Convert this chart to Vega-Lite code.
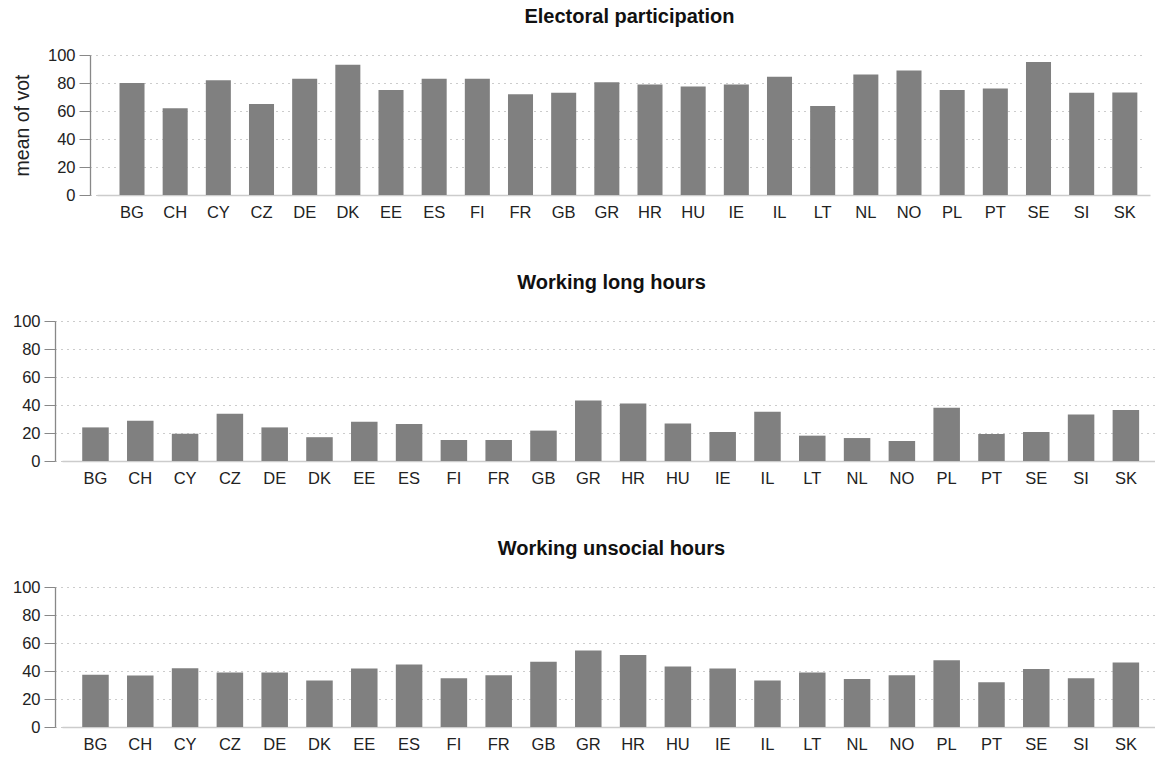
{
  "$schema": "https://vega.github.io/schema/vega-lite/v6.json",
  "background": "white",
  "padding": {"left": 12, "top": 7, "right": 0, "bottom": 0},
  "spacing": 52,
  "center": true,
  "config": {
    "font": "Liberation Sans",
    "view": {"stroke": null},
    "title": {"fontSize": 20, "fontWeight": "bold", "color": "#111111", "offset": 20, "anchor": "middle"},
    "axisX": {"title": null, "labelAngle": 0, "ticks": false, "domainColor": "#cccccc", "domainWidth": 1.5, "labelPadding": 9, "labelFontSize": 16.5, "labelColor": "#222222", "grid": false},
    "axisY": {"values": [0, 20, 40, 60, 80, 100], "offset": 7, "tickSize": 11, "tickColor": "#888888", "domainColor": "#888888", "domainWidth": 1.3, "labelPadding": 4, "labelFontSize": 16.5, "labelColor": "#222222", "gridColor": "#999999", "gridDash": [1, 5], "gridWidth": 1, "titleFontSize": 19.5, "titleFontWeight": "normal", "titleColor": "#222222", "titlePadding": 15}
  },
  "datasets": {
    "vot": [
      {"country": "BG", "value": 80}, {"country": "CH", "value": 62}, {"country": "CY", "value": 82}, {"country": "CZ", "value": 65},
      {"country": "DE", "value": 83}, {"country": "DK", "value": 93}, {"country": "EE", "value": 75}, {"country": "ES", "value": 83},
      {"country": "FI", "value": 83}, {"country": "FR", "value": 72}, {"country": "GB", "value": 73}, {"country": "GR", "value": 80.5},
      {"country": "HR", "value": 79}, {"country": "HU", "value": 77.5}, {"country": "IE", "value": 79}, {"country": "IL", "value": 84.5},
      {"country": "LT", "value": 63.5}, {"country": "NL", "value": 86}, {"country": "NO", "value": 89}, {"country": "PL", "value": 75},
      {"country": "PT", "value": 76}, {"country": "SE", "value": 95}, {"country": "SI", "value": 73}, {"country": "SK", "value": 73.3}
    ],
    "long": [
      {"country": "BG", "value": 24}, {"country": "CH", "value": 28.8}, {"country": "CY", "value": 19.5}, {"country": "CZ", "value": 33.8},
      {"country": "DE", "value": 24}, {"country": "DK", "value": 17}, {"country": "EE", "value": 28}, {"country": "ES", "value": 26.4},
      {"country": "FI", "value": 15}, {"country": "FR", "value": 15}, {"country": "GB", "value": 21.7}, {"country": "GR", "value": 43.3},
      {"country": "HR", "value": 41}, {"country": "HU", "value": 26.7}, {"country": "IE", "value": 20.7}, {"country": "IL", "value": 35.2},
      {"country": "LT", "value": 18.1}, {"country": "NL", "value": 16.4}, {"country": "NO", "value": 14.3}, {"country": "PL", "value": 38.1},
      {"country": "PT", "value": 19.3}, {"country": "SE", "value": 20.7}, {"country": "SI", "value": 33.3}, {"country": "SK", "value": 36.4}
    ],
    "unsoc": [
      {"country": "BG", "value": 37.4}, {"country": "CH", "value": 36.7}, {"country": "CY", "value": 42}, {"country": "CZ", "value": 38.9},
      {"country": "DE", "value": 38.9}, {"country": "DK", "value": 33.2}, {"country": "EE", "value": 41.7}, {"country": "ES", "value": 44.6},
      {"country": "FI", "value": 34.8}, {"country": "FR", "value": 37}, {"country": "GB", "value": 46.6}, {"country": "GR", "value": 54.7},
      {"country": "HR", "value": 51.4}, {"country": "HU", "value": 43.3}, {"country": "IE", "value": 41.7}, {"country": "IL", "value": 33.2},
      {"country": "LT", "value": 38.9}, {"country": "NL", "value": 34.3}, {"country": "NO", "value": 37}, {"country": "PL", "value": 47.7},
      {"country": "PT", "value": 32}, {"country": "SE", "value": 41.4}, {"country": "SI", "value": 34.8}, {"country": "SK", "value": 46}
    ]
  },
  "vconcat": [
    {
      "data": {"name": "vot"},
      "title": {"text": "Electoral participation", "dx": 6},
      "width": 1053,
      "height": 140,
      "mark": {"type": "bar", "color": "#808080"},
      "encoding": {
        "x": {"field": "country", "type": "nominal", "sort": null, "scale": {"paddingInner": 0.42, "paddingOuter": 0.407, "align": 0.64}},
        "y": {"field": "value", "type": "quantitative", "scale": {"domain": [0, 100], "nice": false}, "axis": {"title": "mean of vot"}}
      }
    },
    {
      "data": {"name": "long"},
      "title": {"text": "Working long hours", "dx": -12},
      "width": 1123,
      "height": 140,
      "mark": {"type": "bar", "color": "#808080"},
      "encoding": {
        "x": {"field": "country", "type": "nominal", "sort": null, "scale": {"paddingInner": 0.408, "paddingOuter": 0.7375, "align": 0.306}},
        "y": {"field": "value", "type": "quantitative", "scale": {"domain": [0, 100], "nice": false}, "axis": {"title": null}}
      }
    },
    {
      "data": {"name": "unsoc"},
      "title": {"text": "Working unsocial hours", "dx": -12},
      "width": 1123,
      "height": 140,
      "mark": {"type": "bar", "color": "#808080"},
      "encoding": {
        "x": {"field": "country", "type": "nominal", "sort": null, "scale": {"paddingInner": 0.408, "paddingOuter": 0.7375, "align": 0.306}},
        "y": {"field": "value", "type": "quantitative", "scale": {"domain": [0, 100], "nice": false}, "axis": {"title": null}}
      }
    }
  ]
}
